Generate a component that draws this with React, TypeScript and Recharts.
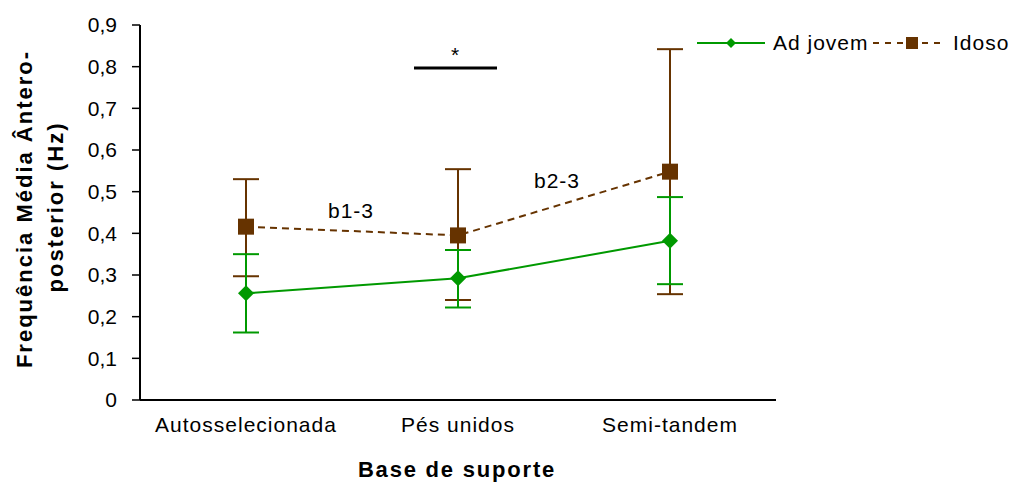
import { LineChart, Line, XAxis, YAxis, ErrorBar, Customized } from "recharts";

const categories = ["Autosselecionada", "Pés unidos", "Semi-tandem"];
const jovemMean = [0.256, 0.292, 0.382];
const jovemLow = [0.162, 0.222, 0.278];
const jovemHigh = [0.35, 0.36, 0.487];
const idosoMean = [0.416, 0.395, 0.548];
const idosoLow = [0.297, 0.24, 0.254];
const idosoHigh = [0.53, 0.554, 0.842];
const yTicks = [0, 0.1, 0.2, 0.3, 0.4, 0.5, 0.6, 0.7, 0.8, 0.9];

const GREEN = "#009900";
const BROWN = "#663300";
const FONT = "'Liberation Sans', Arial, sans-serif";

const data = categories.map((name, i) => ({
    name,
    jovem: jovemMean[i],
    jovemErr: [jovemMean[i] - jovemLow[i], jovemHigh[i] - jovemMean[i]],
    idoso: idosoMean[i],
    idosoErr: [idosoMean[i] - idosoLow[i], idosoHigh[i] - idosoMean[i]],
}));

const fmt = (v: number) => (v === 0 ? "0" : v.toFixed(1).replace(".", ","));

function Diamond(props: any) {
    const { cx, cy } = props;
    if (cx == null || cy == null) return null;
    const r = 8;
    return <path d={`M${cx},${cy - r}L${cx + r},${cy}L${cx},${cy + r}L${cx - r},${cy}Z`} fill={GREEN} />;
}

function Square(props: any) {
    const { cx, cy } = props;
    if (cx == null || cy == null) return null;
    return <rect x={cx - 8} y={cy - 8} width={16} height={16} fill={BROWN} />;
}

// legend, significance marks and axis titles
function Annotations() {
    return (
        <g fontFamily={FONT} fill="#000">
            <line x1={697} y1={43} x2={765} y2={43} stroke={GREEN} strokeWidth={2} />
            <path d="M731,38L736,43L731,48L726,43Z" fill={GREEN} />
            <text x={773} y={50} fontSize={21} letterSpacing={1}>Ad jovem</text>
            <line x1={873} y1={43} x2={903} y2={43} stroke={BROWN} strokeWidth={2} strokeDasharray="6 6" />
            <rect x={906} y={37} width={12} height={12} fill={BROWN} />
            <line x1={922} y1={43} x2={941} y2={43} stroke={BROWN} strokeWidth={2} strokeDasharray="6 6" />
            <text x={953} y={50} fontSize={21} letterSpacing={1}>Idoso</text>

            <text x={351} y={218} fontSize={21} letterSpacing={1} textAnchor="middle">b1-3</text>
            <text x={557} y={188} fontSize={21} letterSpacing={1} textAnchor="middle">b2-3</text>
            <text x={455} y={62} fontSize={21} textAnchor="middle">*</text>
            <line x1={414} y1={68} x2={497} y2={68} stroke="#000" strokeWidth={3} />

            <text x={457} y={477} fontSize={22} fontWeight="bold" letterSpacing={1.8} textAnchor="middle">Base de suporte</text>
            <text transform="translate(32,209) rotate(-90)" fontSize={22} fontWeight="bold" letterSpacing={2} textAnchor="middle">
                Frequência Média Ântero-
            </text>
            <text transform="translate(63,207) rotate(-90)" fontSize={22} fontWeight="bold" letterSpacing={2} textAnchor="middle">
                posterior (Hz)
            </text>
        </g>
    );
}

export default function App() {
    return (
        <div style={{ position: "absolute", left: 0, top: 0, background: "#fff" }}>
            <LineChart width={1013} height={483} data={data} margin={{ top: 25, right: 237, bottom: 53, left: 80 }}>
                <XAxis
                    dataKey="name"
                    padding={{ left: 106, right: 106 }}
                    tickLine={false}
                    tickSize={0}
                    tickMargin={17}
                    axisLine={{ stroke: "#000", strokeWidth: 2 }}
                    tick={{ fill: "#000", fontSize: 21, fontFamily: FONT, letterSpacing: 1 }}
                    height={30}
                />
                <YAxis
                    domain={[0, 0.9]}
                    ticks={yTicks}
                    tickFormatter={fmt}
                    width={60}
                    axisLine={{ stroke: "#000", strokeWidth: 2 }}
                    tickLine={{ stroke: "#000", strokeWidth: 1.5 }}
                    tickSize={8}
                    tickMargin={15}
                    tick={{ fill: "#000", fontSize: 21, fontFamily: FONT }}
                />
                <Line
                    dataKey="idoso"
                    stroke={BROWN}
                    strokeWidth={2}
                    strokeDasharray="7 5"
                    dot={<Square />}
                    activeDot={false}
                    isAnimationActive={false}
                >
                    <ErrorBar dataKey="idosoErr" direction="y" width={13} stroke={BROWN} strokeWidth={2} />
                </Line>
                <Line
                    dataKey="jovem"
                    stroke={GREEN}
                    strokeWidth={2}
                    dot={<Diamond />}
                    activeDot={false}
                    isAnimationActive={false}
                >
                    <ErrorBar dataKey="jovemErr" direction="y" width={13} stroke={GREEN} strokeWidth={2} />
                </Line>
                <Customized component={Annotations} />
            </LineChart>
        </div>
    );
}
